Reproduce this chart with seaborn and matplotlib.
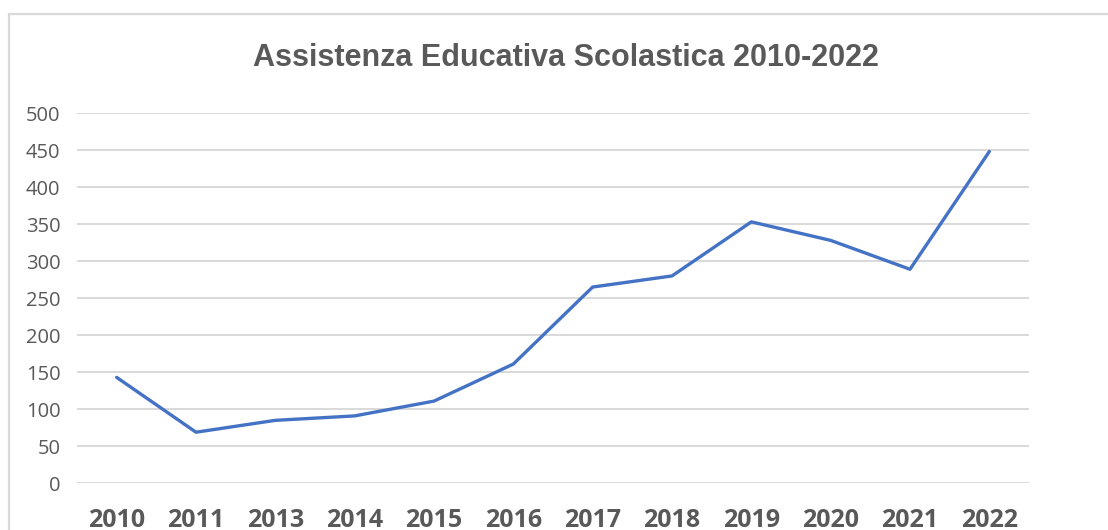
import matplotlib
matplotlib.use("Agg")
import matplotlib.pyplot as plt
import seaborn as sns
import pandas as pd
from matplotlib.patches import Rectangle

# values (2012 is missing in the source)
years = ["2010", "2011", "2013", "2014", "2015", "2016",
         "2017", "2018", "2019", "2020", "2021", "2022"]
cases = [143, 69, 85, 91, 111, 161, 265, 280, 353, 328, 289, 448]
y_ticks = [0, 50, 100, 150, 200, 250, 300, 350, 400, 450, 500]

title = "Assistenza Educativa Scolastica 2010-2022"

df = pd.DataFrame({"anno": years, "valore": cases})

sns.set_theme(style="white")
plt.rcParams["font.family"] = ["Open Sans", "DejaVu Sans"]

fig = plt.figure(figsize=(11.08, 5.30), dpi=100)
ax = fig.add_axes([77 / 1108, 1 - 483.3 / 530, (1029 - 77) / 1108, (483.3 - 113) / 530])

# chart frame like the spreadsheet chart box
fig.patches.append(Rectangle((9 / 1108, -0.1), 1.2, 1 - 14 / 530 + 0.1,
                             transform=fig.transFigure, fill=False,
                             edgecolor="#D9D9D9", linewidth=1.6))

sns.lineplot(data=df, x="anno", y="valore", ax=ax, color="#4472C4",
             linewidth=2.4, sort=False)

ax.set_xlim(-0.5, len(years) - 0.5)
ax.set_ylim(0, 500)
ax.set_yticks(y_ticks)
ax.yaxis.grid(True, color="#D9D9D9", linewidth=1.4)
ax.set_axisbelow(True)
for side in ["top", "right", "left", "bottom"]:
    ax.spines[side].set_visible(False)

ax.tick_params(axis="y", length=0, pad=12, labelsize=14.5, labelcolor="#595959")
ax.tick_params(axis="x", length=0, pad=18, labelsize=18, labelcolor="#595959")
for lab in ax.get_xticklabels():
    lab.set_fontweight("bold")

ax.set_xlabel("")
ax.set_ylabel("")

fig.text(566 / 1108, 1 - 58 / 530, title, ha="center", va="center",
         fontsize=22, fontweight="bold", color="#595959",
         fontstretch="condensed",
         family=["Liberation Sans Narrow", "Liberation Sans"])

fig.savefig("out.png", dpi=100)
plt.close()
